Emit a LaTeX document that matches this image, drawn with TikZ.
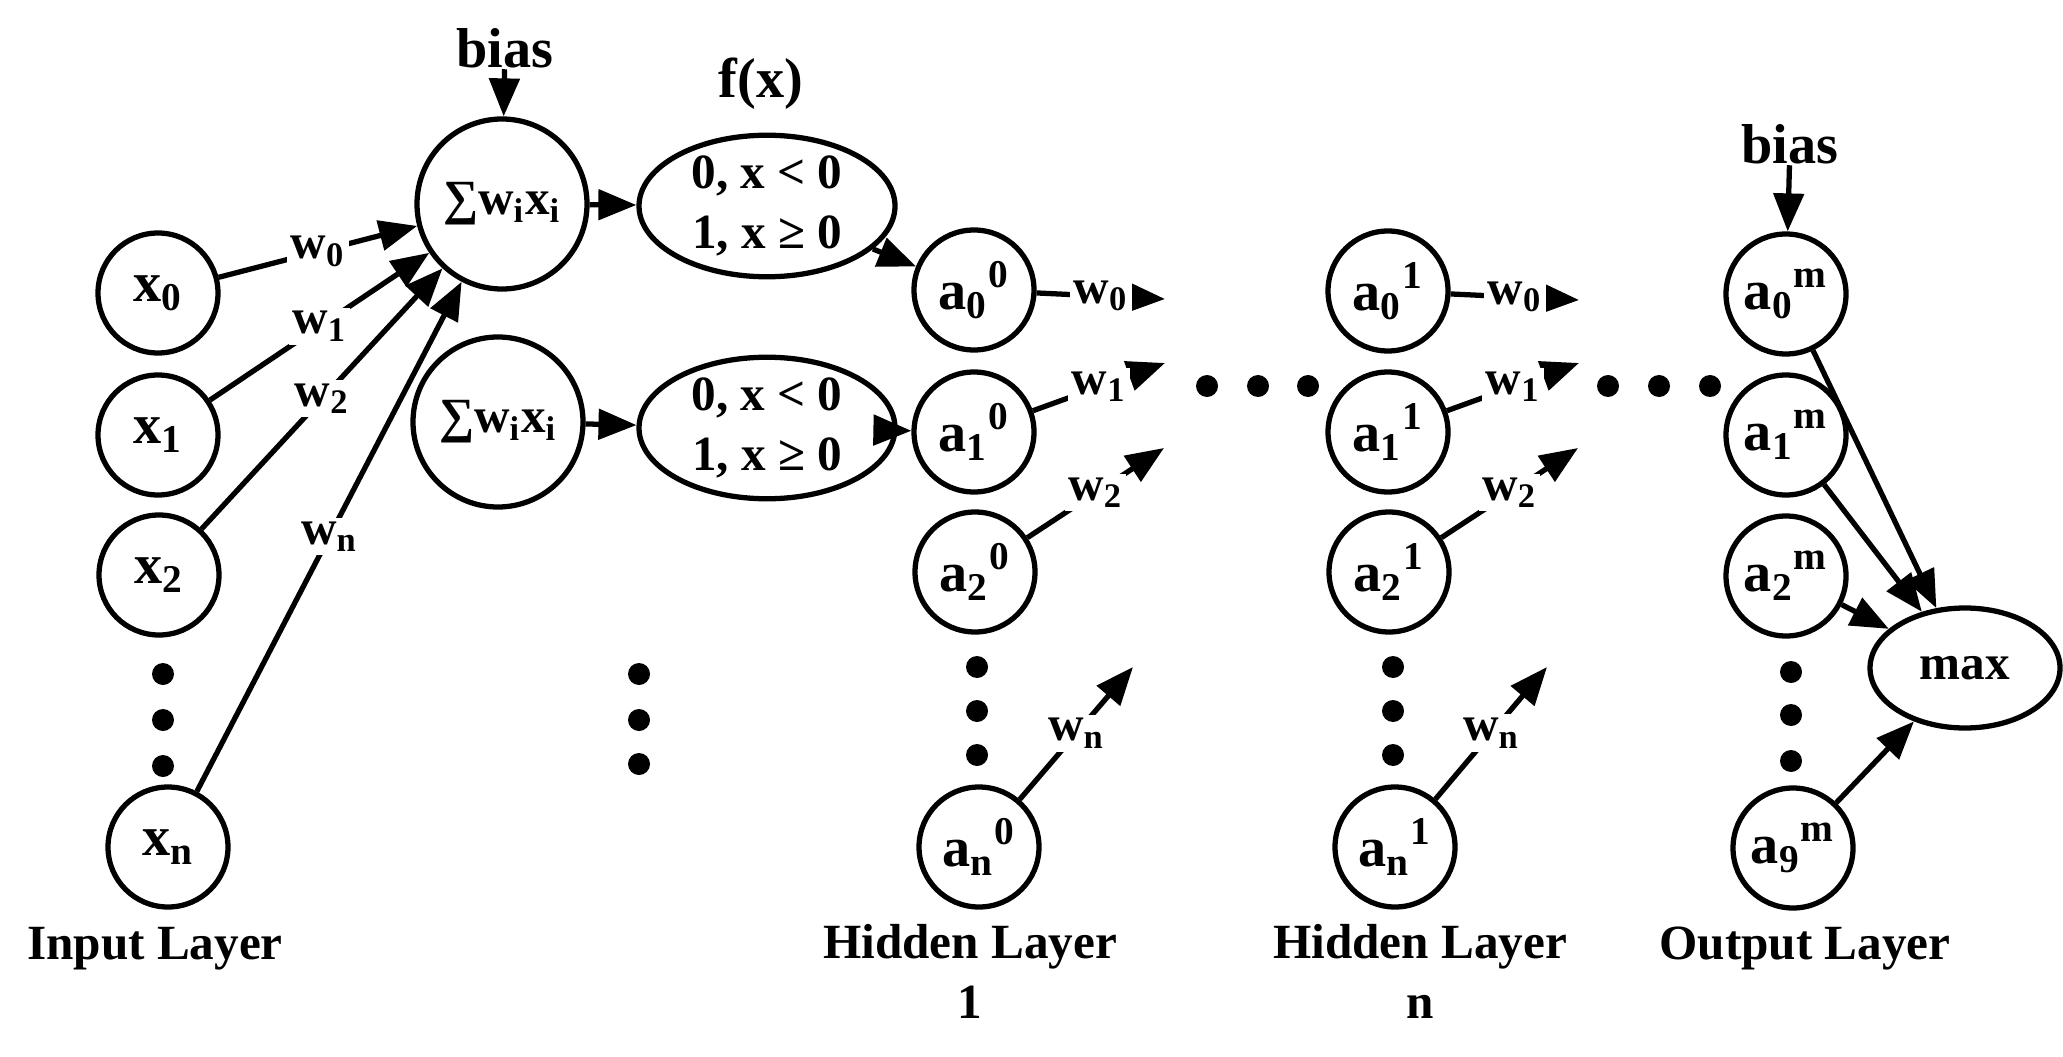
\documentclass[tikz,border=0pt]{standalone}
\usepackage{fontspec}
\setmainfont{Liberation Serif}
\usepackage{tikz}
\usetikzlibrary{shapes.geometric}
\usetikzlibrary{arrows.meta}
\usetikzlibrary{positioning}

\begin{document}
\begin{tikzpicture}[x=0.1mm, y=-0.1mm,
        neuron/.style={circle, draw=black, line width=1.5pt, minimum size=12mm, inner sep=0pt, font=\bfseries\fontsize{16}{19}\selectfont},
        sumnode/.style={circle, draw=black, line width=1.5pt, minimum size=17mm, inner sep=0pt, font=\bfseries\fontsize{14}{17}\selectfont},
        actnode/.style={ellipse, draw=black, line width=1.5pt, minimum width=25.6mm, minimum height=13.8mm, inner sep=0pt, align=center, font=\bfseries\fontsize{14}{17}\selectfont},
        maxnode/.style={ellipse, draw=black, line width=1.5pt, minimum width=19mm, minimum height=12mm, inner sep=0pt, font=\bfseries\fontsize{14}{17}\selectfont},
        blob/.style={circle, fill=black, inner sep=0pt, minimum size=2.2mm},
        wlab/.style={fill=white, inner sep=1pt, font=\bfseries\fontsize{14}{17}\selectfont},
        layer/.style={anchor=base, align=center, inner sep=0pt, font=\bfseries\fontsize{14}{16.8}\selectfont},
        conn/.style={-{Triangle[length=3.8mm, width=3mm]}, line width=1.5pt}
      ]
        \useasboundingbox (0,0) rectangle (2063,1056);

        % input layer
        \node[neuron]  (x0)  at (158, 293)   {x\textsubscript{0}};
        \node[neuron]  (x1)  at (158, 435)   {x\textsubscript{1}};
        \node[neuron]  (x2)  at (159, 575)   {x\textsubscript{2}};
        \node[blob]    (dx0) at (163, 674)   {};
        \node[blob]    (dx1) at (163, 720)   {};
        \node[blob]    (dx2) at (163, 766)   {};
        \node[neuron]  (xn)  at (168, 847)   {x\textsubscript{n}};

        % sum and activation
        \node[layer]   (bias1) at (505, 68)  {\fontsize{16}{19}\selectfont bias};
        \node[sumnode] (sum1)  at (502, 204) {∑w\textsubscript{i}x\textsubscript{i}};
        \node[sumnode] (sum2)  at (498, 422) {∑w\textsubscript{i}x\textsubscript{i}};
        \node[blob]    (ds0)   at (639, 674) {};
        \node[blob]    (ds1)   at (639, 720) {};
        \node[blob]    (ds2)   at (639, 764) {};
        \node[layer]   (fx)    at (761, 98)  {\fontsize{16}{19}\selectfont f(x)};
        \node[actnode] (f1)    at (767, 206) {0, x < 0\\1, x ≥ 0};
        \node[actnode] (f2)    at (767, 428) {0, x < 0\\1, x ≥ 0};

        % hidden layer 1
        \node[neuron]  (a00) at (974, 290)   {a\textsubscript{0}\textsuperscript{0}};
        \node[neuron]  (a10) at (974, 432)   {a\textsubscript{1}\textsuperscript{0}};
        \node[neuron]  (a20) at (975, 572)   {a\textsubscript{2}\textsuperscript{0}};
        \node[blob]    (da0) at (977, 667)   {};
        \node[blob]    (da1) at (977, 711)   {};
        \node[blob]    (da2) at (977, 755)   {};
        \node[neuron]  (an0) at (979, 847)   {a\textsubscript{n}\textsuperscript{0}};
        \coordinate (o00) at (1165, 299);
        \coordinate (o10) at (1165, 363);
        \coordinate (o20) at (1164, 448);
        \coordinate (on0) at (1133, 667);

        \node[blob] (h0) at (1207, 386) {};
        \node[blob] (h1) at (1258, 386) {};
        \node[blob] (h2) at (1308, 386) {};

        % hidden layer n
        \node[neuron]  (a01) at (1388, 291)  {a\textsubscript{0}\textsuperscript{1}};
        \node[neuron]  (a11) at (1388, 432)  {a\textsubscript{1}\textsuperscript{1}};
        \node[neuron]  (a21) at (1389, 572)  {a\textsubscript{2}\textsuperscript{1}};
        \node[blob]    (db0) at (1393, 667)  {};
        \node[blob]    (db1) at (1393, 711)  {};
        \node[blob]    (db2) at (1393, 755)  {};
        \node[neuron]  (an1) at (1395, 847)  {a\textsubscript{n}\textsuperscript{1}};
        \coordinate (o01) at (1579, 300);
        \coordinate (o11) at (1579, 363);
        \coordinate (o21) at (1578, 448);
        \coordinate (on1) at (1547, 667);

        \node[blob] (k0) at (1608, 386) {};
        \node[blob] (k1) at (1659, 386) {};
        \node[blob] (k2) at (1710, 386) {};

        % output layer
        \node[layer]   (bias2) at (1790, 164) {\fontsize{16}{19}\selectfont bias};
        \node[neuron]  (a0m) at (1786, 294)  {a\textsubscript{0}\textsuperscript{m}};
        \node[neuron]  (a1m) at (1786, 435)  {a\textsubscript{1}\textsuperscript{m}};
        \node[neuron]  (a2m) at (1786, 576)  {a\textsubscript{2}\textsuperscript{m}};
        \node[blob]    (dm0) at (1791, 672)  {};
        \node[blob]    (dm1) at (1791, 715)  {};
        \node[blob]    (dm2) at (1791, 761)  {};
        \node[neuron]  (a9m) at (1793, 848)  {a\textsubscript{9}\textsuperscript{m}};
        \node[maxnode] (max) at (1965, 668)  {max};

        % layer names (base = last line)
        \node[layer] (lin)  at (155, 959)    {Input Layer};
        \node[layer] (lh1)  at (970, 1018)   {Hidden Layer\\1};
        \node[layer] (lhn)  at (1420, 1018)  {Hidden Layer\\n};
        \node[layer] (lout) at (1805, 959)   {Output Layer};

        % connections
        \draw[conn] (x0) -- node[wlab] (wx0) {w\textsubscript{0}} (sum1);
        \draw[conn] (x1) -- node[wlab] (wx1) {w\textsubscript{1}} (sum1);
        \draw[conn] (x2) -- node[wlab] (wx2) {w\textsubscript{2}} (sum1);
        \draw[conn] (xn) -- node[wlab] (wxn) {w\textsubscript{n}} (sum1);
        \draw[conn] (bias1) -- (sum1);
        \draw[conn] (sum1) -- (f1);
        \draw[conn] (sum2) -- (f2);
        \draw[conn] (f1) -- (a00);
        \draw[conn] (f2) -- (a10);

        \draw[conn] (a00) -- node[wlab] (w00) {w\textsubscript{0}} (o00);
        \draw[conn] (a10) -- node[wlab] (w10) {w\textsubscript{1}} (o10);
        \draw[conn] (a20) -- node[wlab] (w20) {w\textsubscript{2}} (o20);
        \draw[conn] (an0) -- node[wlab] (wn0) {w\textsubscript{n}} (on0);

        \draw[conn] (a01) -- node[wlab] (w01) {w\textsubscript{0}} (o01);
        \draw[conn] (a11) -- node[wlab] (w11) {w\textsubscript{1}} (o11);
        \draw[conn] (a21) -- node[wlab] (w21) {w\textsubscript{2}} (o21);
        \draw[conn] (an1) -- node[wlab] (wn1) {w\textsubscript{n}} (on1);

        \draw[conn] (bias2) -- (a0m);
        \draw[conn] (a0m) -- (max);
        \draw[conn] (a1m) -- (max);
        \draw[conn] (a2m) -- (max);
        \draw[conn] (a9m) -- (max);
      \end{tikzpicture}
\end{document}
